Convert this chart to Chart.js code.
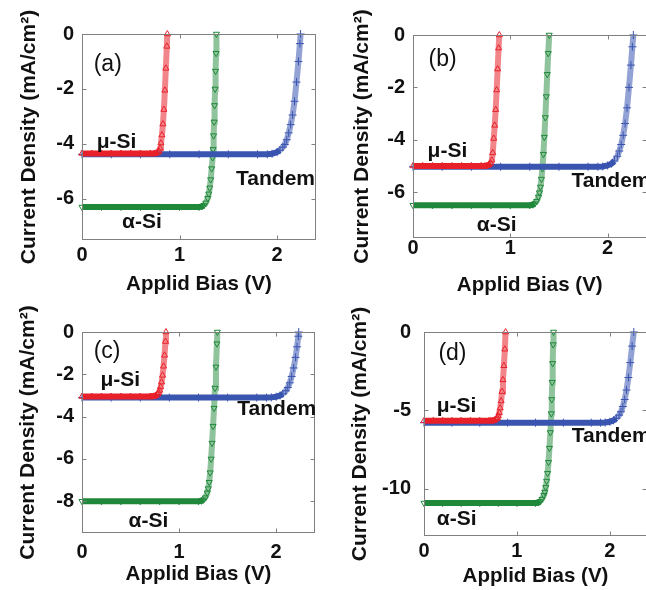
<!DOCTYPE html>
<html>
<head>
<meta charset="utf-8">
<script src="https://cdn.jsdelivr.net/npm/chart.js@4/dist/chart.umd.min.js"></script>
<style>
  html, body { margin: 0; padding: 0; background: #fff; }
  body { position: relative; width: 646px; height: 590px; overflow: hidden; }
  canvas { position: absolute; }
</style>
</head>
<body>
<canvas id="pa" width="330" height="300" style="left:0;top:0"></canvas>
<canvas id="pb" width="330" height="300" style="left:331px;top:0"></canvas>
<canvas id="pc" width="330" height="290" style="left:0;top:300px"></canvas>
<canvas id="pd" width="330" height="290" style="left:342px;top:300px"></canvas>
<script>
// J-V curves (mA/cm2 vs V) for the two sub-cells and the tandem, four cases

const xTicks = [0, 1, 2];
const xMax = 2.4;

// (a)
const muSiVa = [0, 0.1, 0.2, 0.3, 0.4, 0.5, 0.6, 0.7, 0.74, 0.76, 0.78, 0.79, 0.8, 0.81, 0.82, 0.83, 0.84, 0.85, 0.86, 0.87, 0.875];
const muSiJa = [-4.35, -4.35, -4.35, -4.35, -4.35, -4.35, -4.35, -4.35, -4.35, -4.34, -4.31, -4.26, -4.16, -3.97, -3.68, -3.28, -2.75, -2.05, -1.25, -0.45, 0];
const aSiVa = [0, 0.2, 0.4, 0.6, 0.8, 1.0, 1.2, 1.23, 1.25, 1.27, 1.29, 1.3, 1.31, 1.32, 1.33, 1.34, 1.345, 1.35, 1.355, 1.36, 1.365, 1.37, 1.375, 1.379];
const aSiJa = [-6.3, -6.3, -6.3, -6.3, -6.3, -6.3, -6.3, -6.28, -6.24, -6.15, -5.98, -5.82, -5.6, -5.3, -4.9, -4.5, -4.2, -3.7, -3.2, -2.6, -2.0, -1.35, -0.7, 0];
const tandemVa = [0, 0.3, 0.6, 0.9, 1.2, 1.5, 1.8, 1.9, 1.95, 2.0, 2.03, 2.06, 2.08, 2.1, 2.12, 2.14, 2.16, 2.18, 2.2, 2.22, 2.235, 2.242];
const tandemJa = [-4.38, -4.38, -4.38, -4.38, -4.38, -4.38, -4.38, -4.38, -4.36, -4.3, -4.23, -4.12, -4.02, -3.85, -3.6, -3.3, -2.95, -2.45, -1.75, -1.0, -0.35, 0];
const yTicksA = [0, -2, -4, -6];

// (b)
const muSiVb = [0, 0.1, 0.2, 0.3, 0.4, 0.5, 0.6, 0.7, 0.74, 0.76, 0.78, 0.8, 0.81, 0.82, 0.83, 0.84, 0.85, 0.86, 0.87, 0.88, 0.887];
const muSiJb = [-5.0, -5.0, -5.0, -5.0, -5.0, -5.0, -5.0, -5.0, -5.0, -4.99, -4.96, -4.9, -4.78, -4.5, -3.95, -3.45, -2.85, -2.1, -1.3, -0.5, 0];
const aSiVb = [0, 0.2, 0.4, 0.6, 0.8, 1.0, 1.2, 1.23, 1.25, 1.27, 1.29, 1.3, 1.31, 1.32, 1.33, 1.34, 1.35, 1.36, 1.37, 1.38, 1.39, 1.4];
const aSiJb = [-6.5, -6.5, -6.5, -6.5, -6.5, -6.5, -6.5, -6.48, -6.44, -6.35, -6.18, -6.02, -5.8, -5.5, -5.1, -4.55, -3.9, -3.15, -2.35, -1.5, -0.7, 0];
const tandemVb = [0, 0.3, 0.6, 0.9, 1.2, 1.5, 1.8, 1.9, 1.95, 2.0, 2.04, 2.07, 2.1, 2.12, 2.14, 2.16, 2.18, 2.2, 2.22, 2.24, 2.255, 2.265];
const tandemJb = [-5.03, -5.03, -5.03, -5.03, -5.03, -5.03, -5.03, -5.03, -5.02, -4.98, -4.91, -4.81, -4.63, -4.43, -4.18, -3.83, -3.38, -2.78, -2.0, -1.15, -0.45, 0];
const yTicksB = [0, -2, -4, -6];

// (c)
const muSiVc = [0, 0.1, 0.2, 0.3, 0.4, 0.5, 0.6, 0.7, 0.72, 0.74, 0.76, 0.78, 0.79, 0.8, 0.81, 0.82, 0.83, 0.84, 0.85, 0.86, 0.865];
const muSiJc = [-3.05, -3.05, -3.05, -3.05, -3.05, -3.05, -3.05, -3.05, -3.05, -3.04, -3.01, -2.94, -2.87, -2.76, -2.6, -2.37, -2.05, -1.62, -1.1, -0.45, 0];
const aSiVc = [0, 0.2, 0.4, 0.6, 0.8, 1.0, 1.2, 1.23, 1.25, 1.27, 1.29, 1.3, 1.31, 1.32, 1.33, 1.34, 1.35, 1.36, 1.37, 1.38, 1.39, 1.394];
const aSiJc = [-8.0, -8.0, -8.0, -8.0, -8.0, -8.0, -8.0, -7.98, -7.93, -7.83, -7.6, -7.4, -7.1, -6.65, -6.0, -5.25, -4.45, -3.6, -2.65, -1.65, -0.55, 0];
const tandemVc = [0, 0.3, 0.6, 0.9, 1.2, 1.5, 1.8, 1.9, 1.95, 2.0, 2.04, 2.07, 2.1, 2.12, 2.14, 2.16, 2.18, 2.2, 2.215, 2.228, 2.232];
const tandemJc = [-3.1, -3.1, -3.1, -3.1, -3.1, -3.1, -3.1, -3.1, -3.09, -3.06, -3.0, -2.92, -2.78, -2.62, -2.4, -2.1, -1.7, -1.2, -0.7, -0.2, 0];
const yTicksC = [0, -2, -4, -6, -8];

// (d)
const muSiVd = [0, 0.1, 0.2, 0.3, 0.4, 0.5, 0.6, 0.7, 0.72, 0.74, 0.76, 0.78, 0.79, 0.8, 0.81, 0.82, 0.83, 0.84, 0.85, 0.86, 0.87, 0.878];
const muSiJd = [-5.66, -5.66, -5.66, -5.66, -5.66, -5.66, -5.66, -5.66, -5.66, -5.66, -5.62, -5.55, -5.48, -5.35, -5.15, -4.85, -4.4, -3.8, -3.05, -2.15, -1.1, 0];
const aSiVd = [0, 0.2, 0.4, 0.6, 0.8, 1.0, 1.2, 1.23, 1.25, 1.27, 1.29, 1.3, 1.31, 1.32, 1.33, 1.34, 1.35, 1.36, 1.37, 1.375, 1.38, 1.385, 1.39, 1.394];
const aSiJd = [-10.9, -10.9, -10.9, -10.9, -10.9, -10.9, -10.9, -10.87, -10.8, -10.65, -10.4, -10.2, -9.9, -9.5, -9.0, -8.3, -7.4, -6.4, -5.2, -4.3, -3.2, -2.0, -0.8, 0];
const tandemVd = [0, 0.3, 0.6, 0.9, 1.2, 1.5, 1.8, 1.9, 1.95, 2.0, 2.04, 2.07, 2.1, 2.12, 2.14, 2.16, 2.18, 2.2, 2.22, 2.24, 2.258];
const tandemJd = [-5.78, -5.78, -5.78, -5.78, -5.78, -5.78, -5.78, -5.78, -5.77, -5.72, -5.63, -5.5, -5.3, -5.08, -4.75, -4.3, -3.7, -2.9, -1.95, -0.9, 0];
const yTicksD = [0, -5, -10];

const FONT = "Arial, 'Liberation Sans', Helvetica, sans-serif";
const INK = "#111";
const FRAME = "#808080";

const COLORS = {
  muSi: { solid: "rgb(232,32,42)", soft: "rgba(232,32,42,0.55)" },
  aSi: { solid: "rgb(31,136,58)", soft: "rgba(31,136,58,0.5)" },
  tandem: { solid: "rgb(58,85,176)", soft: "rgba(58,85,176,0.55)" },
};

function pairs(vs, js) {
  return vs.map((v, i) => ({ x: v, y: js[i] }));
}

// steep parts of a curve are drawn lighter, like the sparse markers there
function steep(ctx) {
  return Math.abs(ctx.p1.y - ctx.p0.y) > Math.abs(ctx.p1.x - ctx.p0.x);
}

function curve(vs, js, c, marker) {
  return {
    data: pairs(vs, js),
    showLine: true,
    borderColor: c.solid,
    borderWidth: 6,
    tension: 0,
    segment: { borderColor: (ctx) => (steep(ctx) ? c.soft : c.solid) },
    pointStyle: marker.style,
    rotation: marker.rotation || 0,
    pointRadius: marker.radius,
    pointBorderWidth: 1,
    pointBorderColor: c.solid,
    pointBackgroundColor: "rgba(255,255,255,0)",
    clip: 5,
  };
}

// box with inward tick marks on all four sides, plus text labels in data units
const framePlugin = {
  id: "frame",
  afterDatasetsDraw(chart) {
    const { ctx, chartArea: a, scales } = chart;
    const L = Math.round(a.left) + 0.5, R = Math.round(a.right) - 0.5;
    const T = Math.round(a.top) + 0.5, B = Math.round(a.bottom) - 0.5;
    ctx.save();
    ctx.strokeStyle = FRAME;
    ctx.lineWidth = 1;
    ctx.strokeRect(L, T, R - L, B - T);
    ctx.beginPath();
    scales.x.ticks.forEach((t) => {
      const px = Math.round(scales.x.getPixelForValue(t.value)) + 0.5;
      ctx.moveTo(px, B); ctx.lineTo(px, B - 4);
      ctx.moveTo(px, T); ctx.lineTo(px, T + 4);
    });
    scales.y.ticks.forEach((t) => {
      const py = Math.round(scales.y.getPixelForValue(t.value)) + 0.5;
      ctx.moveTo(L, py); ctx.lineTo(L + 4, py);
      ctx.moveTo(R, py); ctx.lineTo(R - 4, py);
    });
    ctx.stroke();
    ctx.restore();
  },
  afterDraw(chart, args, opts) {
    const { ctx, scales } = chart;
    ctx.save();
    ctx.fillStyle = INK;
    ctx.textAlign = "left";
    ctx.textBaseline = "middle";
    (opts.labels || []).forEach((l) => {
      ctx.font = l.font;
      ctx.fillText(l.text, scales.x.getPixelForValue(l.v), scales.y.getPixelForValue(l.j));
    });
    ctx.restore();
  },
};

const curveFont = "bold 21px " + FONT;
const tagFont = "23px " + FONT;

function makePanel(id, p) {
  const datasets = [
    curve(p.muSi[0], p.muSi[1], COLORS.muSi, { style: "triangle", radius: 3.5 }),
    curve(p.tandem[0], p.tandem[1], COLORS.tandem, { style: "cross", radius: 4 }),
    curve(p.aSi[0], p.aSi[1], COLORS.aSi, { style: "triangle", rotation: 180, radius: 3.5 }),
  ];
  return new Chart(document.getElementById(id), {
    type: "scatter",
    data: { datasets },
    plugins: [framePlugin],
    options: {
      responsive: false,
      animation: false,
      devicePixelRatio: 1,
      layout: { padding: { left: 0, top: p.box.top, right: p.box.right, bottom: 0 } },
      plugins: {
        legend: { display: false },
        tooltip: { enabled: false },
        frame: { labels: p.labels },
      },
      scales: {
        x: {
          type: "linear",
          min: 0,
          max: xMax,
          afterBuildTicks: (s) => { s.ticks = xTicks.map((v) => ({ value: v })); },
          afterFit: (s) => { s.height = p.box.xHeight; },
          grid: { display: false, drawTicks: false },
          border: { display: false },
          ticks: {
            color: INK,
            padding: p.box.xTickPad,
            maxRotation: 0,
            font: { family: FONT, size: 20, weight: "bold" },
            callback: (v) => String(v),
          },
          title: {
            display: true,
            text: "Applid Bias (V)",
            color: INK,
            padding: { top: 0, bottom: p.box.xTitlePad },
            font: { family: FONT, size: 20.5, weight: "bold" },
          },
        },
        y: {
          type: "linear",
          min: p.yMin,
          max: 0,
          afterBuildTicks: (s) => { s.ticks = p.yTicks.map((v) => ({ value: v })); },
          afterFit: (s) => { s.width = 82; },
          grid: { display: false, drawTicks: false },
          border: { display: false },
          ticks: {
            color: INK,
            padding: p.box.yTickPad,
            font: { family: FONT, size: 20, weight: "bold" },
            callback: (v) => String(v),
          },
          title: {
            display: true,
            text: "Current Density (mA/cm\u00b2)",
            color: INK,
            padding: { top: p.box.yTitlePad, bottom: 0 },
            font: { family: FONT, size: 21, weight: "bold" },
          },
        },
      },
    },
  });
}

makePanel("pa", {
  muSi: [muSiVa, muSiJa], aSi: [aSiVa, aSiJa], tandem: [tandemVa, tandemJa],
  yTicks: yTicksA, yMin: -7.5,
  box: { top: 34, right: 14, xHeight: 60, xTickPad: 3, xTitlePad: 3, yTickPad: 8, yTitlePad: 16.5 },
  labels: [
    { text: "(a)", v: 0.12, j: -1.1, font: tagFont },
    { text: "\u03bc-Si", v: 0.15, j: -3.93, font: curveFont },
    { text: "Tandem", v: 1.58, j: -5.3, font: curveFont },
    { text: "\u03b1-Si", v: 0.41, j: -6.85, font: curveFont },
  ],
});

makePanel("pb", {
  muSi: [muSiVb, muSiJb], aSi: [aSiVb, aSiJb], tandem: [tandemVb, tandemJb],
  yTicks: yTicksB, yMin: -7.75,
  box: { top: 35, right: 14.5, xHeight: 62, xTickPad: -1.5, xTitlePad: 2.5, yTickPad: 8, yTitlePad: 18.5 },
  labels: [
    { text: "(b)", v: 0.16, j: -0.95, font: tagFont },
    { text: "\u03bc-Si", v: 0.15, j: -4.45, font: curveFont },
    { text: "Tandem", v: 1.63, j: -5.6, font: curveFont },
    { text: "\u03b1-Si", v: 0.655, j: -7.25, font: curveFont },
  ],
});

makePanel("pc", {
  muSi: [muSiVc, muSiJc], aSi: [aSiVc, aSiJc], tandem: [tandemVc, tandemJc],
  yTicks: yTicksC, yMin: -9.5,
  box: { top: 32, right: 15, xHeight: 57, xTickPad: 7.5, xTitlePad: 3.5, yTickPad: 8, yTitlePad: 16 },
  labels: [
    { text: "(c)", v: 0.12, j: -0.94, font: tagFont },
    { text: "\u03bc-Si", v: 0.19, j: -2.27, font: curveFont },
    { text: "Tandem", v: 1.6, j: -3.67, font: curveFont },
    { text: "\u03b1-Si", v: 0.48, j: -8.94, font: curveFont },
  ],
});

makePanel("pd", {
  muSi: [muSiVd, muSiJd], aSi: [aSiVd, aSiJd], tandem: [tandemVd, tandemJd],
  yTicks: yTicksD, yMin: -13,
  box: { top: 32, right: 25, xHeight: 54, xTickPad: 3, xTitlePad: 1, yTickPad: 13, yTitlePad: 5.5 },
  labels: [
    { text: "(d)", v: 0.155, j: -1.38, font: tagFont },
    { text: "\u03bc-Si", v: 0.137, j: -4.76, font: curveFont },
    { text: "Tandem", v: 1.59, j: -6.62, font: curveFont },
    { text: "\u03b1-Si", v: 0.137, j: -11.96, font: curveFont },
  ],
});
</script>
</body>
</html>
